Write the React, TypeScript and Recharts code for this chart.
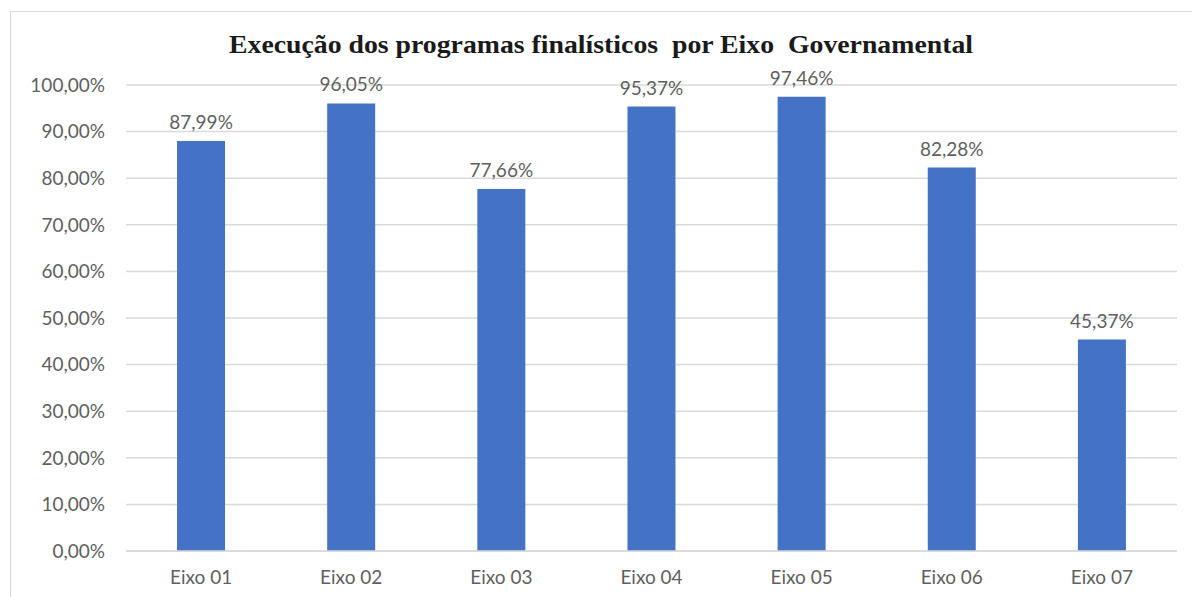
import React from "react";
import { BarChart, Bar, XAxis, YAxis, CartesianGrid, LabelList } from "recharts";

const categories = ["Eixo 01", "Eixo 02", "Eixo 03", "Eixo 04", "Eixo 05", "Eixo 06", "Eixo 07"];
const execucao = [87.99, 96.05, 77.66, 95.37, 97.46, 82.28, 45.37];
const yTicks = [0, 10, 20, 30, 40, 50, 60, 70, 80, 90, 100];
const title = "Execução dos programas finalísticos  por Eixo  Governamental";

const data = categories.map((c, i) => ({ name: c, value: execucao[i] }));
const fmt = (v: number) => v.toFixed(2).replace(".", ",") + "%";

export default function App() {
  return (
    <div style={{ position: "relative", width: 1192, height: 597, background: "#fff", overflow: "hidden" }}>
      <style>{"body{margin:0;}"}</style>
      <div
        style={{
          position: "absolute",
          left: 10,
          top: 11,
          width: 1200,
          height: 620,
          border: "1px solid #d9d9d9",
          boxSizing: "border-box",
        }}
      />
      <svg style={{ position: "absolute", left: 0, top: 0 }} width={1192} height={80}>
        <text
          x={229}
          y={53}
          textLength={744}
          lengthAdjust="spacingAndGlyphs"
          fontFamily="'Liberation Serif', 'DejaVu Serif', serif"
          fontWeight="bold"
          fontSize={26}
          fill="#1a1a1a"
          style={{ whiteSpace: "pre" }}
        >
          {title}
        </text>
      </svg>
      <div style={{ position: "absolute", left: 0, top: 0 }}>
        <BarChart
          width={1192}
          height={597}
          data={data}
          margin={{ top: 85, right: 15, bottom: 0, left: 0 }}
          barCategoryGap="34%"
        >
          <CartesianGrid vertical={false} stroke="#d9d9d9" strokeWidth={1.5} />
          <XAxis
            dataKey="name"
            height={46}
            axisLine={{ stroke: "#d9d9d9", strokeWidth: 1.5 }}
            tickLine={false}
            tickSize={0}
            tickMargin={20}
            tick={{ fill: "#5f5f5f", fontSize: 19, fontFamily: "Lato, 'Noto Sans', sans-serif" }}
          />
          <YAxis
            width={126}
            domain={[0, 100]}
            ticks={yTicks}
            axisLine={false}
            tickLine={false}
            tickSize={0}
            tickMargin={21}
            tickFormatter={fmt}
            tick={{ fill: "#5f5f5f", fontSize: 19, fontFamily: "Lato, 'Noto Sans', sans-serif" }}
          />
          <Bar dataKey="value" fill="#4472C4" isAnimationActive={false}>
            <LabelList
              dataKey="value"
              position="top"
              offset={12}
              formatter={(v: any) => fmt(Number(v))}
              style={{ fill: "#5f5f5f", fontSize: 19, fontFamily: "Lato, 'Noto Sans', sans-serif" }}
            />
          </Bar>
        </BarChart>
      </div>
    </div>
  );
}
